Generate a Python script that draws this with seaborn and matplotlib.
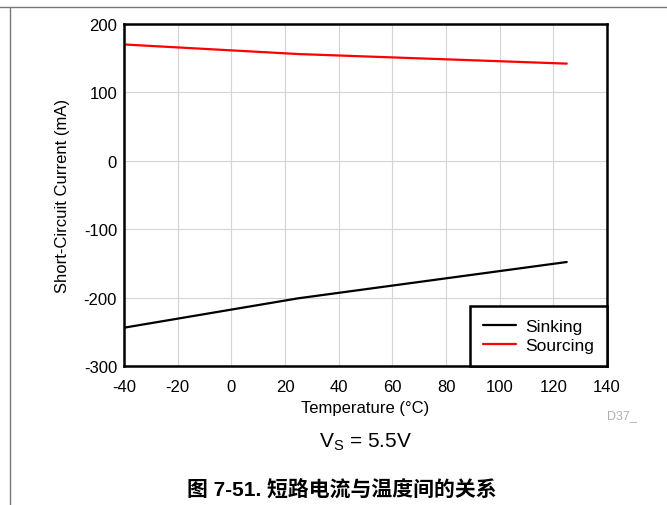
import numpy as np
import pandas as pd
import seaborn as sns
import matplotlib.pyplot as plt
from matplotlib.lines import Line2D

sns.set_theme(style='whitegrid')
plt.rcParams['font.family'] = ['Liberation Sans', 'Noto Sans CJK SC', 'DejaVu Sans']
plt.rcParams['axes.unicode_minus'] = False
plt.rcParams['text.color'] = 'black'
plt.rcParams['axes.labelcolor'] = 'black'
plt.rcParams['xtick.color'] = 'black'
plt.rcParams['ytick.color'] = 'black'

# short-circuit current vs temperature, Vs = 5.5V
temperature = [-40, 25, 125]
sinking = [-244, -201, -148]
sourcing = [170, 156, 142]

df = pd.DataFrame({
    'Temperature': temperature * 2,
    'Current': sinking + sourcing,
    'Mode': ['Sinking'] * 3 + ['Sourcing'] * 3,
})

fig = plt.figure(figsize=(6.67, 5.06), dpi=100)
ax = fig.add_axes([0.186, 0.2747, 0.724, 0.676])

sns.lineplot(data=df, x='Temperature', y='Current', hue='Mode',
             palette={'Sinking': 'black', 'Sourcing': 'red'}, linewidth=1.6, ax=ax)

ax.set_xlim(-40, 140)
ax.set_ylim(-300, 200)
ax.set_xticks(np.arange(-40, 141, 20))
ax.set_yticks(np.arange(-300, 201, 100))
ax.tick_params(axis='x', labelsize=12, length=0, pad=9)
ax.tick_params(axis='y', labelsize=12, length=0, pad=5)
ax.grid(True, color='#d4d4d4', linewidth=0.8)
for s in ax.spines.values():
    s.set_color('black')
    s.set_linewidth(1.8)
ax.set_xlabel('Temperature (°C)', fontsize=12, labelpad=5)
ax.set_ylabel('Short-Circuit Current (mA)', fontsize=12, labelpad=10)

handles = [Line2D([], [], color='black', lw=1.6), Line2D([], [], color='red', lw=1.6)]
leg = ax.legend(handles, ['Sinking', 'Sourcing'], loc='lower right', fontsize=12.5,
                frameon=True, fancybox=False, borderaxespad=0, handlelength=1.95,
                borderpad=0.75, labelspacing=0.22, handletextpad=0.5)
leg.get_frame().set_edgecolor('black')
leg.get_frame().set_linewidth(1.8)
leg.get_frame().set_alpha(1)

fig.text(0.955, 0.172, 'D37_', fontsize=9, color='#b0b0b0', ha='right')
fig.text(0.548, 0.115, r'V$_\mathregular{S}$ = 5.5V', fontsize=15, ha='center')
fig.text(0.512, 0.018, '图 7-51. 短路电流与温度间的关系', fontsize=15, ha='center',
         fontweight='bold')

# page frame
fig.add_artist(Line2D([0, 1], [1 - 8 / 506, 1 - 8 / 506], color='#777777', lw=1))
fig.add_artist(Line2D([10 / 667, 10 / 667], [0, 1 - 8 / 506], color='#777777', lw=1))

fig.savefig('out.png', dpi=100)
